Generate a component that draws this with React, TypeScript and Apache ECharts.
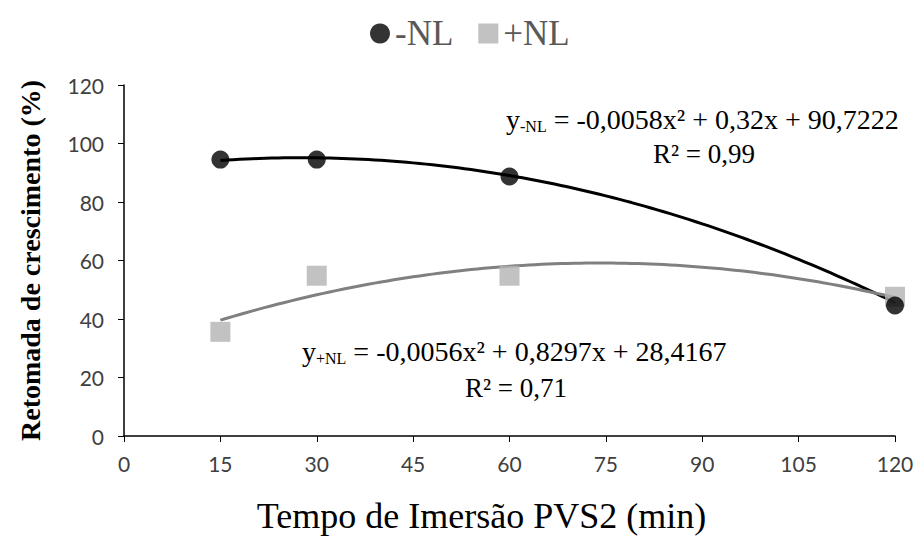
import React, { useEffect, useRef } from "react";
import * as echarts from "echarts";

// Immersion times (min) and growth recovery (%)
const times = [15, 30, 60, 120];
const minusNL = [94.5, 94.5, 88.7, 44.6];
const plusNL = [35.6, 54.8, 54.8, 47.6];

// Quadratic regression coefficients [a, b, c] for y = a·x² + b·x + c
const coefMinusNL = [-0.0058, 0.32, 90.7222];
const coefPlusNL = [-0.0056, 0.8297, 28.4167];

const xTicks = [0, 15, 30, 45, 60, 75, 90, 105, 120];
const yTicks = [0, 20, 40, 60, 80, 100, 120];

const fitCurve = (coef: number[]) => {
  const pts: number[][] = [];
  for (let x = times[0]; x <= times[times.length - 1]; x += 1) {
    pts.push([x, coef[0] * x * x + coef[1] * x + coef[2]]);
  }
  return pts;
};

const serif = "Liberation Serif";
const sans = "Lato";

export default function App() {
  const ref = useRef<HTMLDivElement>(null);

  useEffect(() => {
    document.body.style.margin = "0";
    const chart = echarts.init(ref.current!, null, { renderer: "svg" });
    const eqRich = {
      base: { fontSize: 28, lineHeight: 30, fontFamily: serif, color: "#000" },
      sub: {
        fontSize: 16,
        lineHeight: 30,
        fontFamily: serif,
        color: "#000",
        verticalAlign: "bottom" as const,
        padding: [9, 0, 0, 0],
      },
    };
    const plain = { fontSize: 27, lineHeight: 30, fontFamily: serif, fill: "#000" };
    chart.setOption({
      animation: false,
      backgroundColor: "#fff",
      legend: {
        top: 11,
        left: 365,
        itemGap: 25,
        itemWidth: 20,
        itemHeight: 20,
        textStyle: { fontFamily: serif, fontSize: 35, color: "#595959" },
        data: [
          { name: "-NL", icon: "circle" },
          { name: "+NL", icon: "rect" },
        ],
      },
      grid: { left: 124, right: 22, top: 85, bottom: 115, containLabel: false },
      xAxis: {
        type: "value",
        min: 0,
        max: 120,
        interval: 15,
        name: "Tempo de Imersão PVS2 (min)",
        nameLocation: "middle",
        nameGap: 62,
        nameTextStyle: {
          fontFamily: serif,
          fontSize: 36,
          color: "#000",
          padding: [0, 56, 0, 0],
        },
        axisLine: { lineStyle: { color: "#000", width: 1.5 } },
        axisTick: { show: true, length: 6, lineStyle: { color: "#000" } },
        axisLabel: {
          margin: 17,
          fontFamily: sans,
          fontSize: 21,
          color: "#404040",
          formatter: (v: number) => (xTicks.includes(v) ? String(v) : ""),
        },
        splitLine: { show: false },
      },
      yAxis: {
        type: "value",
        min: 0,
        max: 120,
        interval: 20,
        name: "Retomada de crescimento (%)",
        nameLocation: "middle",
        nameGap: 80,
        nameTextStyle: { fontFamily: serif, fontSize: 28, fontWeight: "bold", color: "#000" },
        axisLine: { show: true, lineStyle: { color: "#000", width: 1.5 } },
        axisTick: { show: true, length: 6, lineStyle: { color: "#000" } },
        axisLabel: {
          margin: 20,
          fontFamily: sans,
          fontSize: 21,
          color: "#404040",
          formatter: (v: number) => (yTicks.includes(v) ? String(v) : ""),
        },
        splitLine: { show: false },
      },
      series: [
        {
          name: "-NL fit",
          type: "line",
          data: fitCurve(coefMinusNL),
          showSymbol: false,
          symbol: "none",
          lineStyle: { color: "#000", width: 3 },
          silent: true,
          z: 1,
        },
        {
          name: "+NL fit",
          type: "line",
          data: fitCurve(coefPlusNL),
          showSymbol: false,
          symbol: "none",
          lineStyle: { color: "#808080", width: 3 },
          silent: true,
          z: 1,
        },
        {
          name: "-NL",
          type: "scatter",
          data: times.map((t, i) => [t, minusNL[i]]),
          symbol: "circle",
          symbolSize: 18,
          itemStyle: { color: "#000" },
          z: 3,
        },
        {
          name: "+NL",
          type: "scatter",
          data: times.map((t, i) => [t, plusNL[i]]),
          symbol: "rect",
          symbolSize: 20,
          itemStyle: { color: "#b3b3b3" },
          z: 2,
        },
      ],
      graphic: [
        {
          type: "text",
          left: 506,
          top: 105,
          style: {
            text: "{base|y}{sub|-NL}{base| = -0,0058x² + 0,32x + 90,7222}",
            rich: eqRich,
          },
        },
        {
          type: "text",
          left: 653,
          top: 139,
          style: { text: "R² = 0,99", ...plain },
        },
        {
          type: "text",
          left: 302,
          top: 337,
          style: {
            text: "{base|y}{sub|+NL}{base| = -0,0056x² + 0,8297x + 28,4167}",
            rich: eqRich,
          },
        },
        {
          type: "text",
          left: 465,
          top: 373,
          style: { text: "R² = 0,71", ...plain },
        },
      ],
    });
    return () => chart.dispose();
  }, []);

  return <div ref={ref} style={{ width: 917, height: 551 }} />;
}
